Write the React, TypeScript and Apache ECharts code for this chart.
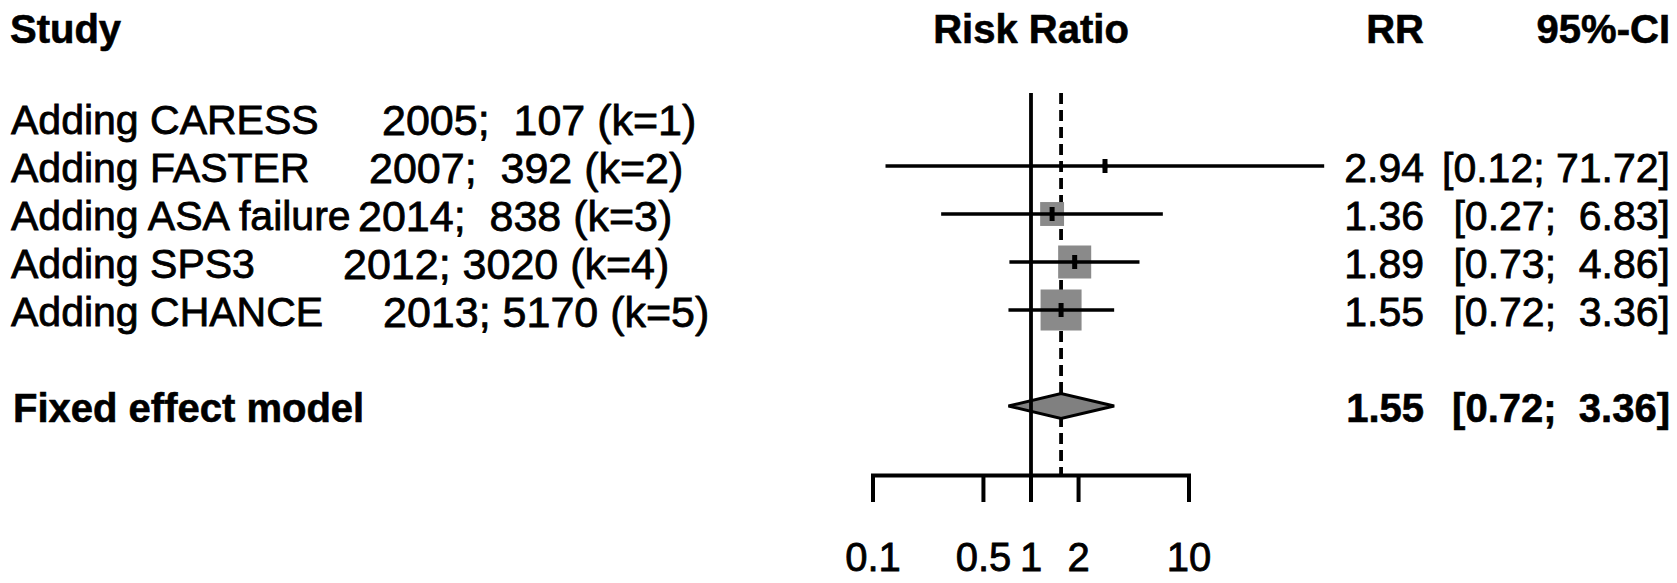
import React, { useEffect, useRef } from "react";
import * as echarts from "echarts";

// ---- data ----
const studyNames = ["Adding CARESS", "Adding FASTER", "Adding ASA failure", "Adding SPS3", "Adding CHANCE"];
const studyYears = [2005, 2007, 2014, 2012, 2013];
const studyPatients = [107, 392, 838, 3020, 5170];
const riskRatios = [null, 2.94, 1.36, 1.89, 1.55];
const ciLower = [null, 0.12, 0.27, 0.73, 0.72];
const ciUpper = [null, 71.72, 6.83, 4.86, 3.36];
const relWeights = [null, 0.015, 0.34, 0.65, 1.0];
const pooledLabel = "Fixed effect model";
const pooledRR = [1.55];
const pooledLower = [0.72];
const pooledUpper = [3.36];
const tickValues = [0.1, 0.5, 1, 2, 10];
const tickLabels = ["0.1", "0.5", "1", "2", "10"];
const headers = ["Study", "Risk Ratio", "RR", "95%-CI"];

// ---- layout (pixels / row units) ----
const FONT = '"Liberation Sans", Arial, Helvetica, sans-serif';
const FS_BOLD = 40;
const FS_NAME = 41;
const FS_REST = 43;
const FS_VAL = 41;
const FS_AXIS = 40;
const restX = [382, 369, 358, 343, 383];
const NAME_X = 11;
const RR_RIGHT = 1424;
const CI_RIGHT = 1670;
const HEADER_ROW = -1.85;
const POOLED_ROW = 6;
const LINE_TOP = -0.52;
const AXIS_ROW = 7.45;
const TICK_END = 8.0;
const LABEL_ROW = 9.15;
const TEXT_DY = 0.05;

function fmt(v: number) {
  return v.toFixed(2);
}
function ciText(l: number, u: number) {
  return "[" + fmt(l) + "; " + fmt(u).padStart(5, " ") + "]";
}

export default function App() {
  const ref = useRef<HTMLDivElement>(null);
  useEffect(() => {
    const chart = echarts.init(ref.current!, undefined, { renderer: "svg" });

    const studyData: number[][] = [];
    riskRatios.forEach((v, i) => {
      if (v != null) studyData.push([v, ciLower[i] as number, ciUpper[i] as number, relWeights[i] as number, i]);
    });

    type T = { x?: number; xv?: number; row: number; text: string; align: string; bold?: boolean; fs: number };
    const texts: T[] = [];
    texts.push({ x: 10, row: HEADER_ROW, text: headers[0], align: "left", bold: true, fs: FS_BOLD });
    texts.push({ xv: 1, row: HEADER_ROW, text: headers[1], align: "center", bold: true, fs: FS_BOLD });
    texts.push({ x: RR_RIGHT, row: HEADER_ROW, text: headers[2], align: "right", bold: true, fs: FS_BOLD });
    texts.push({ x: CI_RIGHT, row: HEADER_ROW, text: headers[3], align: "right", bold: true, fs: FS_BOLD });
    studyNames.forEach((n, i) => {
      texts.push({ x: NAME_X, row: i + TEXT_DY, text: n, align: "left", fs: FS_NAME });
      const rest = studyYears[i] + "; " + String(studyPatients[i]).padStart(4, " ") + " (k=" + (i + 1) + ")";
      texts.push({ x: restX[i], row: i + TEXT_DY, text: rest, align: "left", fs: FS_REST });
      const v = riskRatios[i];
      if (v != null) {
        texts.push({ x: RR_RIGHT, row: i + TEXT_DY, text: fmt(v), align: "right", fs: FS_VAL });
        texts.push({ x: CI_RIGHT, row: i + TEXT_DY, text: ciText(ciLower[i] as number, ciUpper[i] as number), align: "right", fs: FS_VAL });
      }
    });
    texts.push({ x: 13, row: POOLED_ROW + TEXT_DY, text: pooledLabel, align: "left", bold: true, fs: FS_BOLD });
    texts.push({ x: RR_RIGHT, row: POOLED_ROW + TEXT_DY, text: fmt(pooledRR[0]), align: "right", bold: true, fs: FS_BOLD });
    texts.push({ x: CI_RIGHT, row: POOLED_ROW + TEXT_DY, text: ciText(pooledLower[0], pooledUpper[0]), align: "right", bold: true, fs: FS_BOLD });

    const option: any = {
      animation: false,
      backgroundColor: "#ffffff",
      grid: { left: 873, top: 94, width: 474, height: 480, containLabel: false },
      xAxis: {
        type: "log",
        logBase: 10,
        min: 0.1,
        max: 100,
        axisLine: { show: false },
        axisTick: { show: false },
        axisLabel: { show: false },
        splitLine: { show: false },
      },
      yAxis: {
        type: "value",
        inverse: true,
        min: -0.5,
        max: 9.5,
        show: false,
        splitLine: { show: false },
      },
      series: [
        {
          type: "line",
          z: 1,
          data: [[pooledRR[0], LINE_TOP], [pooledRR[0], AXIS_ROW]],
          showSymbol: false,
          symbol: "none",
          lineStyle: { color: "#000", width: 3.8, type: [11, 6] },
          silent: true,
        },
        {
          type: "custom",
          z: 2,
          clip: false,
          coordinateSystem: "cartesian2d",
          encode: { x: 0, y: 4 },
          data: studyData,
          renderItem: (params: any, api: any) => {
            const row = api.value(4);
            const c = api.coord([api.value(0), row]);
            const l = api.coord([api.value(1), row]);
            const u = api.coord([api.value(2), row]);
            const s = 41 * Math.sqrt(api.value(3));
            return {
              type: "group",
              children: [
                { type: "rect", shape: { x: c[0] - s / 2, y: c[1] - s / 2, width: s, height: s }, style: { fill: "#8a8a8a" } },
                { type: "line", shape: { x1: l[0], y1: l[1], x2: u[0], y2: u[1] }, style: { stroke: "#000", lineWidth: 3.6 } },
                { type: "rect", shape: { x: c[0] - 2.5, y: c[1] - 7, width: 5, height: 14 }, style: { fill: "#000" } },
              ],
            };
          },
        },
        {
          type: "custom",
          z: 2,
          clip: false,
          coordinateSystem: "cartesian2d",
          encode: { x: 0, y: 3 },
          data: [[pooledRR[0], pooledLower[0], pooledUpper[0], POOLED_ROW]],
          renderItem: (params: any, api: any) => {
            const row = api.value(3);
            const c = api.coord([api.value(0), row]);
            const l = api.coord([api.value(1), row]);
            const u = api.coord([api.value(2), row]);
            const h = 12.5;
            return {
              type: "polygon",
              shape: { points: [[l[0], c[1]], [c[0], c[1] - h], [u[0], c[1]], [c[0], c[1] + h]] },
              style: { fill: "#808080", stroke: "#000", lineWidth: 3, lineJoin: "miter" },
            };
          },
        },
        {
          type: "line",
          z: 3,
          data: [[1, LINE_TOP], [1, AXIS_ROW]],
          showSymbol: false,
          symbol: "none",
          lineStyle: { color: "#000", width: 3.8 },
          silent: true,
        },
        {
          type: "line",
          z: 3,
          data: [[tickValues[0], AXIS_ROW], [tickValues[tickValues.length - 1], AXIS_ROW]],
          showSymbol: false,
          symbol: "none",
          lineStyle: { color: "#000", width: 4, cap: "square" },
          silent: true,
        },
        {
          type: "custom",
          z: 3,
          clip: false,
          coordinateSystem: "cartesian2d",
          encode: { x: 0, y: 1 },
          data: tickValues.map((v) => [v, AXIS_ROW]),
          renderItem: (params: any, api: any) => {
            const v = api.value(0);
            const p0 = api.coord([v, AXIS_ROW]);
            const p1 = api.coord([v, TICK_END]);
            const pl = api.coord([v, LABEL_ROW]);
            return {
              type: "group",
              children: [
                { type: "line", shape: { x1: p0[0], y1: p0[1], x2: p1[0], y2: p1[1] }, style: { stroke: "#000", lineWidth: 4 } },
                {
                  type: "text",
                  x: pl[0],
                  y: pl[1],
                  style: {
                    text: tickLabels[params.dataIndex],
                    fill: "#000",
                    stroke: "#000",
                    lineWidth: 0.8,
                    fontFamily: FONT,
                    fontSize: FS_AXIS,
                    align: "center",
                    verticalAlign: "middle",
                  },
                },
              ],
            };
          },
        },
        {
          type: "custom",
          z: 4,
          clip: false,
          coordinateSystem: "cartesian2d",
          encode: { x: 0, y: 1 },
          data: texts.map((t) => [1, t.row]),
          renderItem: (params: any, api: any) => {
            const t = texts[params.dataIndex];
            const p = api.coord([t.xv != null ? t.xv : 1, t.row]);
            return {
              type: "text",
              x: t.x != null ? t.x : p[0],
              y: p[1],
              style: {
                text: t.text,
                fill: "#000",
                stroke: "#000",
                lineWidth: t.bold ? 0.6 : 0.8,
                fontFamily: FONT,
                fontSize: t.fs,
                fontWeight: t.bold ? "bold" : "normal",
                align: t.align,
                verticalAlign: "middle",
              },
            };
          },
        },
      ],
    };
    chart.setOption(option);
    return () => chart.dispose();
  }, []);
  return (
    <div
      ref={ref}
      style={{ position: "fixed", left: 0, top: 0, width: 1677, height: 583, background: "#fff" }}
    />
  );
}
